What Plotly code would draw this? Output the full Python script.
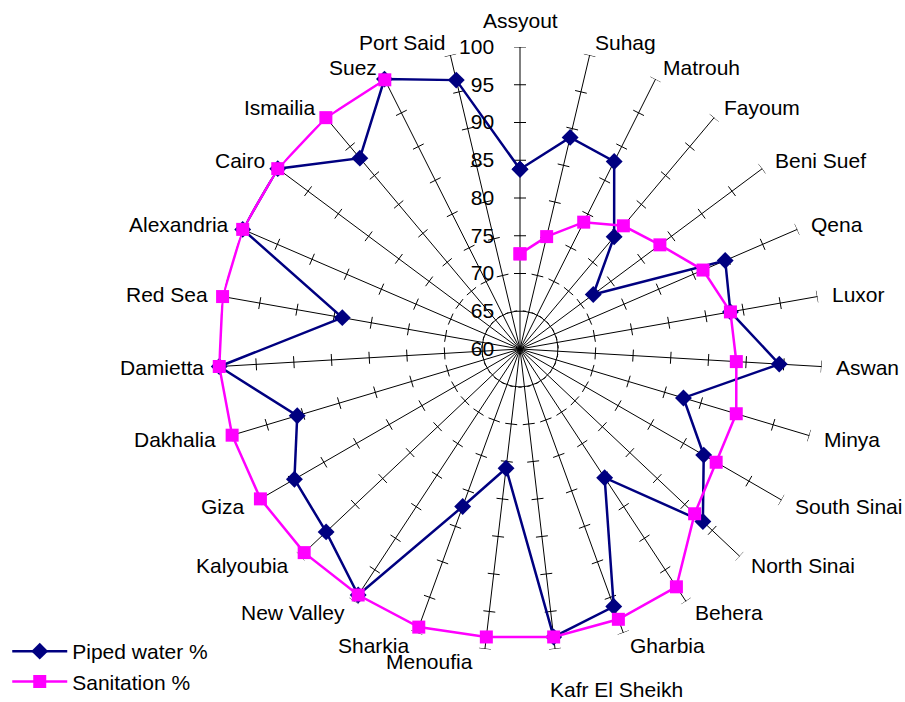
import math
import plotly.graph_objects as go

# Governorates, clockwise from the top
governorates = [
    "Assyout", "Suhag", "Matrouh", "Fayoum", "Beni Suef", "Qena", "Luxor",
    "Aswan", "Minya", "South Sinai", "North Sinai", "Behera", "Gharbia",
    "Kafr El Sheikh", "Menoufia", "Sharkia", "New Valley", "Kalyoubia", "Giza",
    "Dakhalia", "Damietta", "Red Sea", "Alexandria", "Cairo", "Ismailia",
    "Suez", "Port Said",
]

piped_water = [
    83.8, 88.8, 87.8, 79.4, 72.1, 89.6, 88.3, 94.4, 82.6, 88.1, 93.3, 80.4,
    96.3, 98.4, 75.9, 82.2, 99.0, 95.3, 94.5, 90.8, 99.9, 83.9, 100.0, 100.0,
    93.0, 100.0, 96.6,
]

sanitation = [
    72.6, 75.3, 78.8, 81.3, 83.1, 86.4, 88.3, 88.7, 89.9, 90.0, 91.8, 97.7,
    98.1, 98.4, 98.4, 99.2, 99.0, 99.3, 99.7, 99.8, 99.9, 100.0, 100.0, 100.0,
    100.0, 99.9, None,
]

r_min, r_max, r_step = 60, 100, 5
radial_ticks = list(range(r_min, r_max + 1, r_step))

n = len(governorates)
angles = [k * 360.0 / n for k in range(n)]

FONT = "Liberation Sans, Arial, sans-serif"
FS = 21

W, H = 905, 702
cx, cy, R = 520, 349, 302
px_per_unit = R / (r_max - r_min)

fig = go.Figure()

# cross tick marks on every spoke
tick_half = 6 / px_per_unit  # half-length of a tick, in radial units
tr, tt = [], []
for a in angles:
    for v in radial_ticks[1:]:
        d = v - r_min
        rr = r_min + math.hypot(d, tick_half)
        da = math.degrees(math.atan2(tick_half, d))
        tr += [rr, rr, None]
        tt += [a - da, a + da, None]
fig.add_trace(go.Scatterpolar(
    r=tr, theta=tt, mode="lines",
    line=dict(color="black", width=1),
    hoverinfo="skip", showlegend=False,
))


def closed(values):
    return values + values[:1]


fig.add_trace(go.Scatterpolar(
    r=closed(piped_water), theta=closed(angles),
    mode="lines+markers", name="Piped water %",
    line=dict(color="#000080", width=2.5),
    marker=dict(symbol="diamond", size=13, color="#000080"),
    connectgaps=False,
))
fig.add_trace(go.Scatterpolar(
    r=closed(sanitation), theta=closed(angles),
    mode="lines+markers", name="Sanitation %",
    line=dict(color="#FF00FF", width=2.5),
    marker=dict(symbol="square", size=13, color="#FF00FF"),
    connectgaps=False,
))

# category labels just beyond the end of each spoke
annotations = []
for name, a in zip(governorates, angles):
    gap = 13
    xshift = 0
    xanchor, yanchor = ("left", "middle") if a < 180 else ("right", "middle")
    if a == 0:
        xanchor, yanchor = "center", "bottom"
        gap = 13
    elif 170 < a < 180:
        # the spoke just right of straight down: drop its label below the ring
        xanchor, yanchor = "left", "top"
        gap = 27
        xshift = -10
    elif 180 < a < 190:
        xshift = -8
    phi = math.radians(90 - a)
    px = cx + (R + gap) * math.cos(phi)
    py = cy - (R + gap) * math.sin(phi)
    annotations.append(dict(
        x=px / W, y=1 - py / H, xref="paper", yref="paper",
        text=name, showarrow=False, xanchor=xanchor, yanchor=yanchor,
        xshift=xshift,
        font=dict(family=FONT, size=FS, color="black"),
    ))

fig.update_layout(
    width=W, height=H,
    margin=dict(l=0, r=0, t=0, b=0),
    paper_bgcolor="white",
    plot_bgcolor="white",
    font=dict(family=FONT, size=FS, color="black"),
    annotations=annotations,
    polar=dict(
        domain=dict(
            x=[(cx - R) / W, (cx + R) / W],
            y=[(H - cy - R) / H, (H - cy + R) / H],
        ),
        bgcolor="white",
        angularaxis=dict(
            type="linear",
            rotation=90,
            direction="clockwise",
            tickmode="array",
            tickvals=angles,
            showticklabels=False,
            showgrid=True,
            gridcolor="black",
            gridwidth=1,
            showline=False,
            ticks="",
        ),
        radialaxis=dict(
            range=[r_min, r_max],
            tickmode="array",
            tickvals=radial_ticks,
            ticktext=[str(v) for v in radial_ticks],
            tickfont=dict(family=FONT, size=FS, color="black"),
            angle=90,
            tickangle=90,
            side="counterclockwise",
            showgrid=False,
            showline=False,
            ticks="outside",
            ticklen=18,
            tickcolor="rgba(0,0,0,0)",
        ),
    ),
    legend=dict(
        x=0.008, y=0.0, xanchor="left", yanchor="bottom",
        font=dict(family=FONT, size=FS, color="black"),
        bgcolor="rgba(255,255,255,0)",
        itemwidth=55,
    ),
)

fig.write_html("out.html")
